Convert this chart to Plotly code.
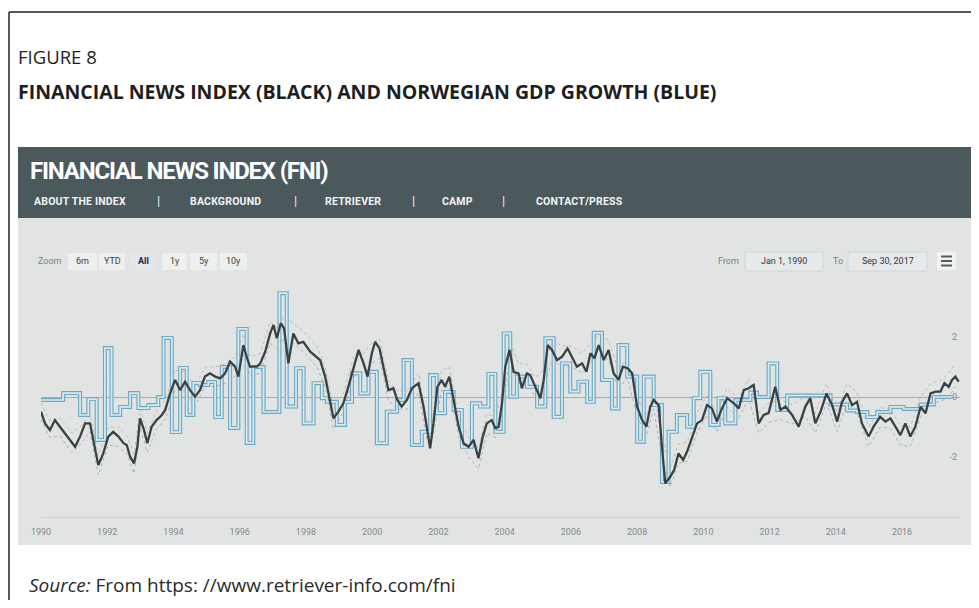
import plotly.graph_objects as go

# page pixel space of the reference (979 x 608); the figure sits inside the
# browser body margin (8 px), sized so that no scrollbars appear
PAGE_W, PAGE_H = 979, 608
OFF = 8
W, H = PAGE_W - OFF, PAGE_H - 2 * OFF

# ---------------- data ----------------
# Financial News Index (black line): decimal year, value
fni_years = [1990.00, 1990.12, 1990.27, 1990.42, 1990.57, 1990.73, 1990.93, 1991.03, 1991.18, 1991.33,
             1991.48, 1991.63, 1991.73, 1991.88, 1992.03, 1992.18, 1992.34, 1992.49, 1992.59, 1992.69,
             1992.81, 1992.91, 1992.99, 1993.11, 1993.21, 1993.34, 1993.49, 1993.65, 1993.75, 1993.90,
             1994.05, 1994.20, 1994.35, 1994.50, 1994.65, 1994.80, 1994.95, 1995.10, 1995.26, 1995.41,
             1995.56, 1995.71, 1995.86, 1995.96, 1996.11, 1996.21, 1996.31, 1996.52, 1996.62, 1996.77,
             1996.92, 1997.02, 1997.12, 1997.24, 1997.34, 1997.47, 1997.62, 1997.77, 1997.92, 1998.13,
             1998.33, 1998.43, 1998.58, 1998.73, 1998.83, 1998.98, 1999.13, 1999.28, 1999.44, 1999.59,
             1999.74, 1999.86, 1999.99, 2000.09, 2000.22, 2000.34, 2000.49, 2000.64, 2000.76, 2000.89,
             2001.05, 2001.20, 2001.40, 2001.55, 2001.65, 2001.75, 2001.85, 2001.97, 2002.10, 2002.20,
             2002.33, 2002.45, 2002.61, 2002.76, 2002.91, 2003.06, 2003.21, 2003.34, 2003.46, 2003.61,
             2003.72, 2003.82, 2003.92, 2004.02, 2004.15, 2004.27, 2004.42, 2004.52, 2004.67, 2004.77,
             2004.92, 2005.08, 2005.18, 2005.30, 2005.43, 2005.58, 2005.73, 2005.90, 2006.03, 2006.18,
             2006.34, 2006.47, 2006.59, 2006.71, 2006.84, 2006.99, 2007.14, 2007.29, 2007.44, 2007.57,
             2007.71, 2007.85, 2008.00, 2008.15, 2008.28, 2008.40, 2008.50, 2008.65, 2008.75, 2008.85,
             2009.00, 2009.12, 2009.25, 2009.39, 2009.51, 2009.66, 2009.81, 2009.96, 2010.11, 2010.26,
             2010.41, 2010.56, 2010.72, 2010.92, 2011.07, 2011.22, 2011.37, 2011.52, 2011.67, 2011.82,
             2011.97, 2012.17, 2012.33, 2012.48, 2012.68, 2012.88, 2013.08, 2013.23, 2013.38, 2013.54,
             2013.72, 2013.89, 2014.04, 2014.19, 2014.34, 2014.49, 2014.64, 2014.79, 2014.99, 2015.14,
             2015.34, 2015.50, 2015.65, 2015.80, 2015.95, 2016.10, 2016.25, 2016.40, 2016.56, 2016.71,
             2016.86, 2017.01, 2017.16, 2017.28, 2017.41, 2017.51, 2017.61, 2017.71]
fni_values = [-0.49, -0.88, -1.10, -0.77, -0.99, -1.21, -1.49, -1.66, -1.32, -0.88,
              -0.88, -1.77, -2.27, -1.88, -1.32, -1.16, -1.32, -1.54, -1.60, -1.99,
              -2.21, -1.66, -0.71, -1.10, -1.54, -0.99, -0.77, -0.60, -0.43, 0.12,
              0.57, 0.23, 0.51, 0.23, 0.01, 0.23, 0.68, 0.79, 0.68, 0.62,
              0.79, 1.18, 1.01, 0.68, 1.73, 1.34, 1.01, 1.01, 1.12, 1.51,
              2.12, 2.40, 1.96, 2.46, 2.29, 1.12, 2.12, 1.79, 1.84, 1.51,
              1.34, 1.23, 0.68, -0.21, -0.71, -0.49, -0.21, 0.34, 1.01, 1.57,
              1.12, 0.68, 1.46, 1.84, 1.62, 1.01, 0.23, 0.29, -0.10, -0.32,
              -0.10, 0.29, 0.46, -0.32, -1.10, -1.71, -0.88, 0.34, 0.57, 0.34,
              0.68, 0.01, -0.99, -1.54, -1.66, -1.43, -2.04, -1.32, -0.88, -0.77,
              -1.04, -0.99, -0.21, 1.01, 1.57, 0.84, 0.79, 0.29, 0.79, 0.73,
              0.34, -0.04, 0.57, 1.73, 1.57, 1.23, 1.34, 1.62, 1.34, 1.01,
              1.12, 0.84, 1.46, 1.29, 1.73, 1.23, 1.57, 0.79, 0.57, 1.01,
              0.96, 0.79, -0.32, -0.77, -0.99, -0.32, -0.10, -0.27, -1.66, -2.88,
              -2.66, -2.43, -1.88, -2.10, -1.82, -1.32, -0.88, -0.77, -0.27, -0.38,
              -0.82, -0.38, -0.04, -0.21, -0.38, 0.23, 0.29, 0.40, -0.88, -0.60,
              -0.54, 0.34, -0.43, -0.32, -0.60, -0.99, -0.32, -0.04, -0.88, -0.49,
              0.12, -0.27, -0.82, -0.16, 0.12, -0.27, -0.16, -0.88, -1.32, -0.99,
              -0.66, -0.82, -0.71, -0.99, -1.27, -0.88, -1.32, -0.99, -0.32, -0.54,
              0.12, 0.18, 0.18, 0.46, 0.34, 0.57, 0.68, 0.51]

# Confidence bands around the index (faint dotted lines)
band_years = [1990.00, 1990.27, 1990.57, 1990.93, 1991.18, 1991.48, 1991.73, 1992.03, 1992.34, 1992.59,
              1992.81, 1992.99, 1993.21, 1993.49, 1993.75, 1994.05, 1994.35, 1994.65, 1994.95, 1995.26,
              1995.56, 1995.86, 1996.11, 1996.31, 1996.62, 1996.92, 1997.12, 1997.34, 1997.62, 1997.92,
              1998.33, 1998.58, 1998.83, 1999.13, 1999.44, 1999.74, 1999.99, 2000.22, 2000.49, 2000.76,
              2001.05, 2001.40, 2001.65, 2001.85, 2002.10, 2002.33, 2002.61, 2002.91, 2003.21, 2003.46,
              2003.72, 2003.92, 2004.15, 2004.42, 2004.67, 2004.92, 2005.18, 2005.43, 2005.73, 2006.03,
              2006.34, 2006.59, 2006.84, 2007.14, 2007.44, 2007.71, 2008.00, 2008.28, 2008.50, 2008.75,
              2009.00, 2009.25, 2009.51, 2009.81, 2010.11, 2010.41, 2010.72, 2011.07, 2011.37, 2011.67,
              2011.97, 2012.33, 2012.68, 2013.08, 2013.38, 2013.72, 2014.04, 2014.34, 2014.64, 2014.99,
              2015.34, 2015.65, 2015.95, 2016.25, 2016.56, 2016.86, 2017.16, 2017.41, 2017.61]
band_upper = [-0.20, -0.80, -0.70, -1.20, -1.00, -0.60, -1.95, -1.00, -1.00, -1.30,
              -1.90, -0.40, -1.20, -0.45, -0.10, 0.90, 0.85, 0.35, 1.00, 1.00,
              1.10, 1.35, 2.10, 1.35, 1.45, 2.50, 2.30, 2.70, 2.45, 2.20,
              1.70, 1.00, -0.40, 0.10, 1.35, 1.45, 1.80, 1.95, 0.55, 0.20,
              0.20, 0.80, -0.80, -0.55, 0.90, 1.00, -0.65, -1.35, -1.70, -0.55,
              -0.70, 0.10, 1.90, 1.10, 1.10, 0.65, 0.90, 1.90, 1.70, 1.70,
              1.45, 1.80, 2.05, 1.90, 0.90, 1.30, 0.00, -0.65, 0.20, -1.35,
              -2.35, -1.55, -1.50, -0.55, 0.05, -0.50, 0.30, -0.05, 0.60, -0.55,
              -0.20, -0.10, -0.25, 0.00, -0.55, 0.45, -0.50, 0.45, 0.15, -1.00,
              -0.35, -0.40, -0.95, -1.00, 0.00, 0.45, 0.55, 0.80, 1.10]
band_lower = [-0.75, -1.35, -1.30, -1.85, -1.60, -1.15, -2.60, -1.60, -1.65, -1.90,
              -2.55, -1.00, -1.85, -1.05, -0.75, 0.25, 0.20, -0.30, 0.35, 0.35,
              0.45, 0.70, 1.40, 0.70, 0.80, 1.80, 1.60, 1.95, 1.80, 1.50,
              1.00, 0.35, -1.05, -0.50, 0.70, 0.80, 1.10, 1.30, -0.10, -0.40,
              -0.40, 0.15, -1.40, -1.20, 0.25, 0.35, -1.30, -2.00, -2.40, -1.20,
              -1.35, -0.55, 1.25, 0.45, 0.45, 0.00, 0.25, 1.25, 1.00, 1.00,
              0.80, 1.15, 1.40, 1.25, 0.25, 0.65, -0.65, -1.30, -0.40, -2.00,
              -3.00, -2.20, -2.15, -1.20, -0.60, -1.15, -0.35, -0.70, -0.05, -1.20,
              -0.85, -0.75, -0.90, -0.65, -1.20, -0.20, -1.15, -0.20, -0.50, -1.65,
              -1.00, -1.05, -1.60, -1.65, -0.65, -0.20, -0.15, 0.00, 0.35]

# Norwegian GDP growth (blue step line): start of each step, value
gdp_years = [1990.00, 1990.67, 1991.18, 1991.43, 1991.68, 1991.93, 1992.13, 1992.39, 1992.69, 1992.94,
             1993.24, 1993.54, 1993.70, 1993.95, 1994.20, 1994.40, 1994.60, 1994.80, 1995.05, 1995.26,
             1995.46, 1995.71, 1995.96, 1996.21, 1996.41, 1996.72, 1997.20, 1997.42, 1997.70, 1997.93,
             1998.23, 1998.48, 1998.63, 1998.93, 1999.18, 1999.39, 1999.64, 1999.89, 2000.14, 2000.44,
             2000.75, 2000.95, 2001.20, 2001.50, 2001.75, 2001.95, 2002.20, 2002.46, 2002.71, 2003.01,
             2003.26, 2003.51, 2003.72, 2003.97, 2004.17, 2004.37, 2004.67, 2004.98, 2005.23, 2005.48,
             2005.73, 2005.98, 2006.23, 2006.49, 2006.69, 2006.94, 2007.24, 2007.44, 2007.70, 2008.00,
             2008.20, 2008.50, 2008.75, 2008.95, 2009.20, 2009.51, 2009.71, 2009.91, 2010.21, 2010.46,
             2010.66, 2010.97, 2011.42, 2011.62, 2011.97, 2012.23, 2012.53, 2013.84, 2014.34, 2014.64,
             2014.95, 2015.25, 2015.65, 2016.05, 2016.56, 2016.96, 2017.50]
gdp_values = [-0.10, 0.13, -0.60, -0.07, -1.43, 1.63, -0.60, -0.33, 0.13, -0.37,
              -0.27, 0.00, 1.97, -1.17, 0.97, -0.60, 0.47, 0.40, 0.50, -0.67,
              1.00, -1.03, 2.27, -1.53, 1.00, -0.50, 3.46, -0.32, 0.96, -0.88,
              0.46, -0.04, -0.16, -0.93, -0.16, 0.79, 0.12, 0.84, -1.54, -0.49,
              -0.10, 1.23, -1.60, -1.16, 0.73, -0.54, 0.17, -0.43, -1.66, -0.21,
              -0.32, 0.77, -1.16, 2.12, 0.01, 0.68, 0.34, -0.32, 1.96, -0.66,
              1.12, 0.18, 0.51, -0.16, 2.14, 0.57, -0.38, 1.73, 0.68, -1.49,
              0.68, -0.27, -2.83, -1.16, -0.60, -0.99, -0.04, 0.84, -0.93, -0.04,
              -0.88, -0.10, 0.15, 0.00, 1.12, -0.43, 0.05, -0.25, -0.45, -0.50,
              -0.67, -0.50, -0.33, -0.40, -0.25, 0.00, 0.00]

x_tick_years = [1990, 1992, 1994, 1996, 1998, 2000, 2002, 2004, 2006, 2008, 2010, 2012, 2014, 2016]
y_tick_values = [2, 0, -2, -4]
y_tick_labels = ["2", "0", "-2", "-4"]

nav_items = ["ABOUT THE INDEX", "BACKGROUND", "RETRIEVER", "CAMP", "CONTACT/PRESS"]
zoom_buttons = ["6m", "YTD", "All", "1y", "5y", "10y"]
date_from, date_to = "Jan 1, 1990", "Sep 30, 2017"

# ---------------- helpers (page pixels -> paper fraction) ----------------
def px(x):
    return (x - OFF) / W

def py(y):
    return 1 - (y - OFF) / H

UI_FONT = "Roboto"
DOC_FONT = "Open Sans"
CHART_BG = "#e1e4e3"
HEADER_BG = "#4b595d"

fig = go.Figure()

fig.add_trace(go.Scatter(x=band_years, y=band_upper, mode="lines",
                         line=dict(color="rgba(190,170,160,0.75)", width=1, dash="dot"),
                         hoverinfo="skip", showlegend=False))
fig.add_trace(go.Scatter(x=band_years, y=band_lower, mode="lines",
                         line=dict(color="rgba(150,155,160,0.7)", width=1, dash="dot"),
                         hoverinfo="skip", showlegend=False))
fig.add_trace(go.Scatter(x=gdp_years, y=gdp_values, mode="lines", line_shape="hv",
                         line=dict(color="#70a8c1", width=4.0), showlegend=False))
fig.add_trace(go.Scatter(x=gdp_years, y=gdp_values, mode="lines", line_shape="hv",
                         line=dict(color="#d4ecf4", width=1.7), showlegend=False))
fig.add_trace(go.Scatter(x=fni_years, y=fni_values, mode="lines",
                         line=dict(color="#384246", width=2.3), showlegend=False))

shapes = []
# outer frame lines
shapes.append(dict(type="line", xref="paper", yref="paper", x0=px(9), x1=px(979), y0=py(12), y1=py(12),
                   line=dict(color="#222222", width=1.5)))
shapes.append(dict(type="line", xref="paper", yref="paper", x0=px(9), x1=px(9), y0=py(12), y1=py(608),
                   line=dict(color="#222222", width=1.5)))
# screenshot: header band and chart background
shapes.append(dict(type="rect", xref="paper", yref="paper", x0=px(18), x1=px(979), y0=py(218), y1=py(147),
                   fillcolor=HEADER_BG, line=dict(width=0), layer="below"))
shapes.append(dict(type="rect", xref="paper", yref="paper", x0=px(18), x1=px(979), y0=py(545), y1=py(218),
                   fillcolor=CHART_BG, line=dict(width=0), layer="below"))

annotations = []

def text(x, y, s, size, color, family=UI_FONT, xanchor="center", weight="normal"):
    annotations.append(dict(x=px(x), y=py(y), xref="paper", yref="paper", text=s, showarrow=False,
                            xanchor=xanchor, yanchor="middle",
                            font=dict(family=family, size=size, color=color, weight=weight)))

# document titles
text(16, 56, "FIGURE 8", 18.5, "#1e1e1e", DOC_FONT, "left")
text(16, 91, "FINANCIAL NEWS INDEX (BLACK) AND NORWEGIAN GDP GROWTH (BLUE)", 19.5, "#1e1e1e",
     DOC_FONT, "left", "bold")
annotations.append(dict(x=px(27), y=py(585), xref="paper", yref="paper",
                        text="<i>Source:</i> From https: //www.retriever-info.com/fni", showarrow=False,
                        xanchor="left", yanchor="middle",
                        font=dict(family=DOC_FONT, size=19, color="#2a2a2a")))

# header
text(28, 171, '<span style="letter-spacing:-1.2px">FINANCIAL NEWS INDEX (FNI)</span>', 24, "#ffffff",
     UI_FONT, "left", "bold")
nav_centers = [80, 225, 353, 457, 579]
for name, cx in zip(nav_items, nav_centers):
    text(cx, 202, '<span style="letter-spacing:0.2px">%s</span>' % name, 10.5, "#f2f4f4", UI_FONT,
         "center", "bold")
for sx in [158, 295, 413, 503]:
    text(sx, 201, "|", 13, "#e8ecec", UI_FONT, "center")

# zoom row
text(36, 261, "Zoom", 9, "#7a7f80", UI_FONT, "left")
btn_boxes = [(68, 97), (99, 125), (130, 156), (162, 187), (190, 217), (220, 247)]
for lab, (bx0, bx1) in zip(zoom_buttons, btn_boxes):
    selected = lab == "All"
    shapes.append(dict(type="rect", xref="paper", yref="paper", x0=px(bx0), x1=px(bx1), y0=py(270), y1=py(253),
                       fillcolor="#e3e6ea" if selected else "#eef0f0", line=dict(width=0), layer="below"))
    text((bx0 + bx1) / 2, 261.5, ("<b>%s</b>" % lab) if selected else lab, 9,
         "#1c2540" if selected else "#3c3f40")

# from / to
text(728, 261, "From", 9, "#7a7f80")
text(838, 261, "To", 9, "#7a7f80")
for (bx0, bx1), s in [((745, 823), date_from), ((848, 927), date_to)]:
    shapes.append(dict(type="rect", xref="paper", yref="paper", x0=px(bx0), x1=px(bx1), y0=py(271), y1=py(252),
                       fillcolor="#e6e9e9", line=dict(color="#d0d4d4", width=1), layer="below"))
    text((bx0 + bx1) / 2, 261.5, s, 9, "#333738")
# menu button
shapes.append(dict(type="rect", xref="paper", yref="paper", x0=px(937), x1=px(956), y0=py(270), y1=py(252),
                   fillcolor="#f1f3f3", line=dict(width=0), layer="below"))
for ly in [256.5, 261, 265.5]:
    shapes.append(dict(type="line", xref="paper", yref="paper", x0=px(941), x1=px(952), y0=py(ly), y1=py(ly),
                       line=dict(color="#555a5c", width=2)))

fig.update_layout(
    width=W, height=H,
    margin=dict(l=0, r=0, t=0, b=0, pad=0, autoexpand=False),
    paper_bgcolor="#ffffff",
    plot_bgcolor=CHART_BG,
    shapes=shapes,
    annotations=annotations,
    showlegend=False,
    xaxis=dict(domain=[px(41), px(960)], range=[1990, 2017.75], automargin=False,
               tickvals=x_tick_years, ticktext=[str(v) for v in x_tick_years],
               tickfont=dict(family=UI_FONT, size=9, color="#85898a"),
               ticks="outside", ticklen=6, tickcolor="rgba(0,0,0,0)",
               showgrid=False, zeroline=False, showline=True, linecolor="#cdd1d1", linewidth=1,
               fixedrange=True),
    yaxis=dict(domain=[py(517), py(280)], range=[-4, 3.9], side="right", automargin=False,
               tickvals=y_tick_values, ticktext=y_tick_labels, ticklabelposition="inside",
               tickfont=dict(family=UI_FONT, size=9, color="#85898a"),
               ticks="", showgrid=False, zeroline=True, zerolinecolor="#a9acac", zerolinewidth=1,
               showline=False, fixedrange=True),
)

fig.write_html("out.html")
